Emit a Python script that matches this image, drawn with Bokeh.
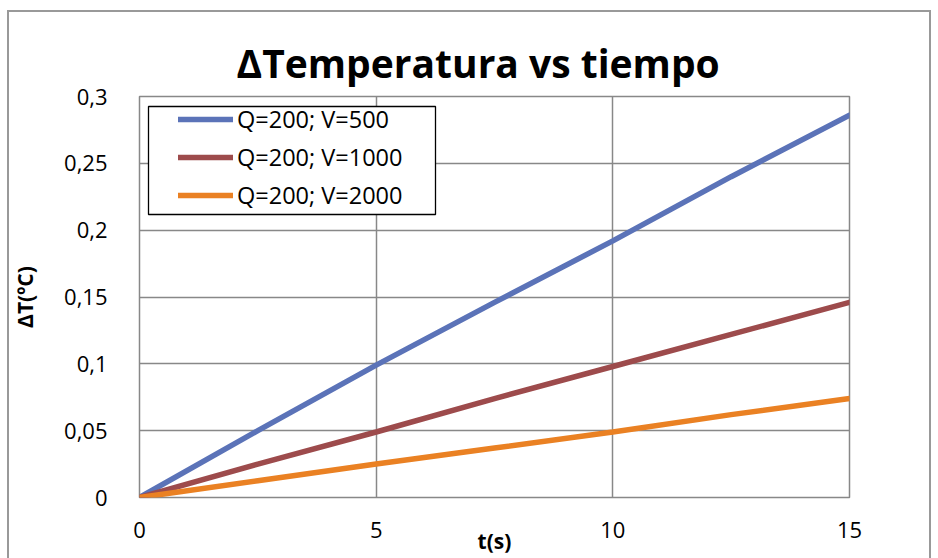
from bokeh.embed import file_html
from bokeh.models import (BoxAnnotation, CustomJSTickFormatter, FixedTicker,
                          Legend, LegendItem, Range1d)
from bokeh.plotting import figure
from bokeh.resources import INLINE

# Temperature rise over time for a fixed heat input Q and three volumes V
t_s = [0, 2.5, 5, 7.5, 10, 12.5, 15]
dT_v500 = [0, 0.050, 0.099, 0.146, 0.192, 0.240, 0.286]
dT_v1000 = [0, 0.025, 0.049, 0.074, 0.098, 0.122, 0.146]
dT_v2000 = [0, 0.0125, 0.025, 0.037, 0.049, 0.062, 0.074]

series_names = ["Q=200; V=500", "Q=200; V=1000", "Q=200; V=2000"]
series_colors = ["#5B73B8", "#9D4B4C", "#EA8123"]

x_ticks = [0, 5, 10, 15]
y_ticks = [0, 0.05, 0.1, 0.15, 0.2, 0.25, 0.3]

FONT = "Open Sans"
GRID = "#888888"
EDGE = "#999999"

# the chart area's gray border (left, top, right) is painted behind a transparent canvas
border_css = {
    "background-color": "white",
    "background-image": ", ".join(["linear-gradient(%s, %s)" % (EDGE, EDGE)] * 3),
    "background-size": "2px 560px, 924px 2px, 2px 560px",
    "background-position": "7px 10px, 7px 10px, 929px 10px",
    "background-repeat": "no-repeat",
}

p = figure(
    width=938, height=558,
    x_range=Range1d(0, 15), y_range=Range1d(0, 0.3),
    min_border_left=139, min_border_right=89,
    min_border_top=96, min_border_bottom=61,
    output_backend="svg", toolbar_location=None,
    styles=border_css,
)
p.background_fill_color = "white"
p.border_fill_alpha = 0
p.outline_line_color = GRID
p.outline_line_width = 1.5

p.title.text = "ΔTemperatura vs tiempo"
p.title.text_font = FONT
p.title.text_font_size = "39px"
p.title.text_font_style = "bold"
p.title.text_color = "black"
p.title.align = "left"
p.title.offset = 97
p.title.standoff = 16

# axes: no lines or ticks, only labels
for ax in (p.xaxis[0], p.yaxis[0]):
    ax.axis_line_color = None
    ax.major_tick_line_color = None
    ax.minor_tick_line_color = None
    ax.major_label_text_font = FONT
    ax.major_label_text_font_size = "22px"
    ax.major_label_text_color = "black"
    ax.axis_label_text_font = FONT
    ax.axis_label_text_font_size = "21px"
    ax.axis_label_text_font_style = "bold"
    ax.axis_label_text_color = "black"

p.xaxis.ticker = FixedTicker(ticks=x_ticks)
p.yaxis.ticker = FixedTicker(ticks=y_ticks)
p.xaxis.major_label_standoff = 18
p.yaxis.major_label_standoff = 26
p.yaxis.formatter = CustomJSTickFormatter(
    code="return (Math.round(tick * 100) / 100).toString().replace('.', ',');"
)
p.xaxis.axis_label = "t(s)"
p.xaxis.axis_label_standoff = -14
p.yaxis.axis_label = "ΔT(ºC)"
p.yaxis.axis_label_standoff = 22

p.xgrid.ticker = FixedTicker(ticks=x_ticks)
p.ygrid.ticker = FixedTicker(ticks=y_ticks)
for g in (p.xgrid[0], p.ygrid[0]):
    g.grid_line_color = GRID
    g.grid_line_width = 1.5

renderers = []
for ys, color in zip([dT_v500, dT_v1000, dT_v2000], series_colors):
    r = p.line(t_s, ys, line_color=color, line_width=5.5, line_cap="round")
    renderers.append(r)

# legend box
p.add_layout(BoxAnnotation(
    left=148, right=435, top=106, bottom=214,
    left_units="canvas", right_units="canvas",
    top_units="canvas", bottom_units="canvas",
    fill_color="white", fill_alpha=1,
    line_color="black", line_alpha=1, line_width=1.3,
))

legend = Legend(
    items=[LegendItem(label=n, renderers=[r]) for n, r in zip(series_names, renderers)],
    location=(36, 283), margin=0, padding=3, spacing=6,
    label_height=30, glyph_height=30, glyph_width=55, label_standoff=4,
    border_line_alpha=0, background_fill_alpha=0,
    label_text_font=FONT, label_text_font_size="23.5px", label_text_color="black",
)
p.add_layout(legend)

open("out.html", "w").write(file_html(p, INLINE))
